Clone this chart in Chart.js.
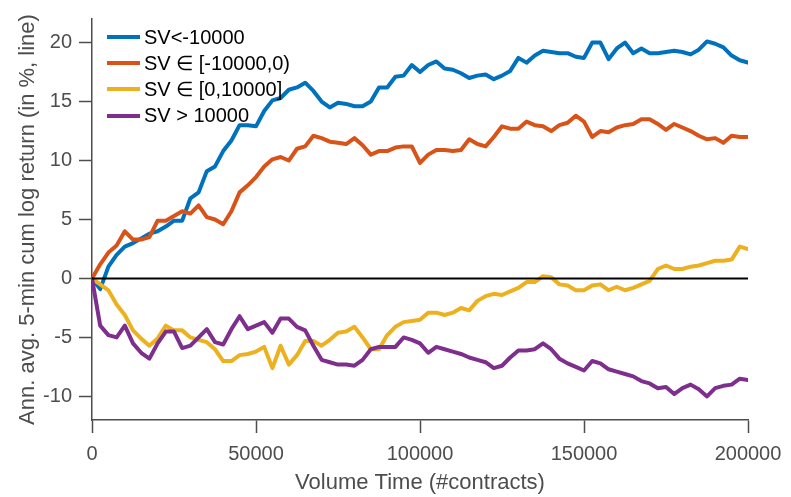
<!DOCTYPE html>
<html>
<head>
<meta charset="utf-8">
<script src="https://cdn.jsdelivr.net/npm/chart.js@4.4.1/dist/chart.umd.min.js"></script>
<style>
  body { margin: 0; background: #fff; }
  #wrap { position: relative; width: 791px; height: 497px; }
  #legend { position: absolute; left: 107px; top: 24px; font-family: "Liberation Sans", Arial, sans-serif; font-size: 20px; color: #000; }
  #legend .item { display: flex; align-items: center; height: 26.2px; white-space: nowrap; }
  #legend .swatch { width: 33px; height: 4px; margin-right: 4px; }
</style>
</head>
<body>
<div id="wrap">
  <canvas id="chart"></canvas>
  <div id="legend"></div>
</div>
<script>
// volume time grid (#contracts)
var volumeTime = [0,2500,5000,7500,10000,12500,15000,17500,20000,22500,
  25000,27500,30000,32500,35000,37500,40000,42500,45000,47500,
  50000,52500,55000,57500,60000,62500,65000,67500,70000,72500,
  75000,77500,80000,82500,85000,87500,90000,92500,95000,97500,
  100000,102500,105000,107500,110000,112500,115000,117500,120000,122500,
  125000,127500,130000,132500,135000,137500,140000,142500,145000,147500,
  150000,152500,155000,157500,160000,162500,165000,167500,170000,172500,
  175000,177500,180000,182500,185000,187500,190000,192500,195000,197500,
  200000];

var svBelow = [0,-0.9,1.0,2.0,2.7,3.0,3.4,3.8,4.0,4.4,
  4.9,4.9,6.8,7.3,9.1,9.5,10.8,11.7,13.0,13.0,
  12.9,14.2,15.1,15.3,16.0,16.2,16.6,15.9,15.0,14.5,
  14.9,14.8,14.6,14.6,15.0,16.2,16.2,17.1,17.2,18.1,
  17.5,18.1,18.4,17.8,17.7,17.4,17.0,17.2,17.3,16.9,
  17.2,17.6,18.7,18.3,18.9,19.3,19.2,19.1,19.1,18.8,
  18.7,20.0,20.0,18.6,19.5,20.0,19.1,19.5,19.1,19.1,
  19.2,19.3,19.2,19.0,19.4,20.1,19.9,19.6,18.9,18.5,
  18.3];

var svNeg = [0,1.2,2.2,2.8,4.0,3.3,3.3,3.5,4.9,4.9,
  5.3,5.7,5.5,6.2,5.2,5.0,4.6,5.7,7.3,7.9,
  8.6,9.5,10.1,10.3,10.0,11.0,11.2,12.1,11.9,11.6,
  11.5,11.4,11.9,11.3,10.5,10.8,10.8,11.1,11.2,11.2,
  9.8,10.5,10.9,10.9,10.8,10.9,11.8,11.4,11.2,12.0,
  12.9,12.7,12.7,13.3,13.0,12.9,12.5,13.0,13.2,13.8,
  13.3,12.0,12.5,12.4,12.8,13.0,13.1,13.5,13.5,13.1,
  12.6,13.1,12.8,12.5,12.1,11.8,11.9,11.5,12.1,12.0,
  12.0];

var svPos = [0,-0.5,-1.0,-2.2,-3.1,-4.4,-5.1,-5.7,-5.1,-4.0,
  -4.4,-4.4,-5.0,-5.2,-5.4,-6.0,-7.0,-7.0,-6.5,-6.4,
  -6.2,-5.8,-7.6,-5.7,-7.3,-6.5,-5.3,-5.3,-5.7,-5.2,
  -4.6,-4.5,-4.1,-5.0,-6.0,-6.0,-4.8,-4.1,-3.7,-3.6,
  -3.5,-2.9,-2.9,-3.1,-2.9,-2.5,-2.7,-1.9,-1.5,-1.3,
  -1.4,-1.1,-0.8,-0.3,-0.3,0.2,0.1,-0.5,-0.6,-1.0,
  -1.0,-0.6,-0.5,-1.0,-0.7,-1.0,-0.8,-0.5,-0.2,0.8,
  1.1,0.8,0.8,1.0,1.1,1.3,1.5,1.5,1.6,2.7,
  2.5];

var svAbove = [0,-4.0,-4.8,-5.0,-4.0,-5.5,-6.3,-6.8,-5.5,-4.5,
  -4.5,-5.9,-5.7,-5.0,-4.3,-5.4,-5.6,-4.3,-3.2,-4.3,
  -4.0,-3.7,-4.6,-3.4,-3.4,-4.1,-4.4,-5.7,-6.9,-7.1,
  -7.3,-7.3,-7.4,-6.9,-6.0,-5.8,-5.8,-5.8,-5.0,-5.2,
  -5.5,-6.3,-5.8,-6.0,-6.2,-6.4,-6.7,-6.9,-7.1,-7.6,
  -7.4,-6.7,-6.1,-6.1,-6.0,-5.5,-6.0,-6.8,-7.2,-7.5,
  -7.8,-7.0,-7.2,-7.7,-7.9,-8.1,-8.3,-8.7,-8.9,-9.3,
  -9.2,-9.8,-9.3,-9.0,-9.4,-10.0,-9.3,-9.1,-9.0,-8.5,
  -8.6];

var seriesNames = ['SV<-10000', 'SV \u2208 [-10000,0)', 'SV \u2208 [0,10000]', 'SV > 10000'];
var seriesColors = ['#0072BD', '#D95319', '#EDB120', '#7E2F8E'];
var xTicks = [0, 50000, 100000, 150000, 200000];
var yTicks = [-10, -5, 0, 5, 10, 15, 20];
var zeroLine = [0, 0];
var zeroX = [0, 200000];

function pts(xs, ys) {
  return xs.map(function (x, i) { return { x: x, y: ys[i] }; });
}

var allSeries = [svBelow, svNeg, svPos, svAbove];
var datasets = allSeries.map(function (s, i) {
  return {
    label: seriesNames[i],
    data: pts(volumeTime, s),
    borderColor: seriesColors[i],
    borderWidth: 4,
    pointRadius: 0,
    borderJoinStyle: 'round',
    borderCapStyle: 'round',
    order: 4 - i
  };
});
datasets.push({
  label: 'zero',
  data: pts(zeroX, zeroLine),
  borderColor: '#000',
  borderWidth: 2,
  pointRadius: 0,
  order: -1
});

Chart.defaults.font.family = '"Liberation Sans", Arial, sans-serif';
var axisGray = '#4d4d4d';

var chart = new Chart(document.getElementById('chart'), {
  type: 'line',
  data: { datasets: datasets },
  options: {
    responsive: true,
    maintainAspectRatio: false,
    animation: false,
    layout: { padding: { top: 10, right: 43, left: 0, bottom: 0 } },
    plugins: { legend: { display: false }, tooltip: { enabled: false } },
    scales: {
      x: {
        type: 'linear',
        min: 0,
        max: 200000,
        afterBuildTicks: function (scale) { scale.ticks = xTicks.map(function (v) { return { value: v }; }); },
        afterFit: function (scale) { scale.height = 77; },
        grid: { drawOnChartArea: false, tickLength: 13, tickWidth: 1.5, color: axisGray },
        border: { color: axisGray, width: 1.5 },
        ticks: { color: axisGray, font: { size: 20 }, padding: 9, maxRotation: 0,
          callback: function (v) { return String(v); } },
        title: { display: true, text: 'Volume Time (#contracts)', color: axisGray,
          font: { size: 22 }, padding: { top: 0, bottom: 1 } }
      },
      y: {
        min: -12,
        max: 22,
        afterBuildTicks: function (scale) { scale.ticks = yTicks.map(function (v) { return { value: v }; }); },
        afterFit: function (scale) { scale.width = 92; },
        grid: { drawOnChartArea: false, tickLength: 13, tickWidth: 1.5, color: axisGray },
        border: { color: axisGray, width: 1.5 },
        ticks: { color: axisGray, font: { size: 20 }, padding: 7 },
        title: { display: true, text: 'Ann. avg. 5-min cum log return (in %, line)', color: axisGray,
          font: { size: 22 }, padding: { top: 15, bottom: 0 } }
      }
    }
  }
});

// legend drawn as html, inside the axes like the original
var legend = document.getElementById('legend');
chart.data.datasets.slice(0, 4).forEach(function (ds) {
  var row = document.createElement('div');
  row.className = 'item';
  var sw = document.createElement('span');
  sw.className = 'swatch';
  sw.style.background = ds.borderColor;
  var txt = document.createElement('span');
  txt.textContent = ds.label;
  row.appendChild(sw);
  row.appendChild(txt);
  legend.appendChild(row);
});
</script>
</body>
</html>
